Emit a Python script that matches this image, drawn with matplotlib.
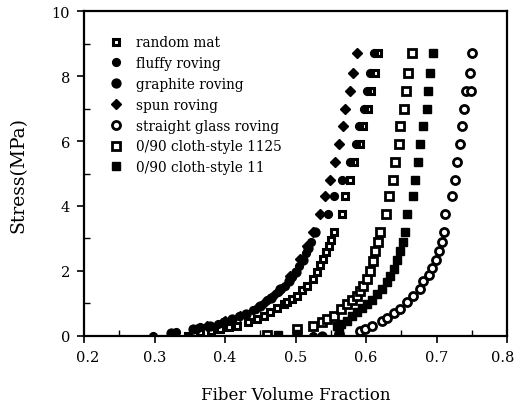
import numpy as np
import matplotlib
matplotlib.use("Agg")
import matplotlib.pyplot as plt
import matplotlib.transforms as mtransforms
from matplotlib.ticker import MultipleLocator

plt.rcParams["font.family"] = ["DejaVu Serif"]

# ── Data (fiber volume fraction, stress MPa) ──────────────────────────────────────

x_ticks = [0.2, 0.3, 0.4, 0.5, 0.6, 0.7, 0.8]
x_tick_labels = ["0.2", "0.3", "0.4", "0.5", "0.6", "0.7", "0.8"]
y_ticks = [0, 2, 4, 6, 8, 10]

random_mat_x = [0.348, 0.364, 0.380, 0.393, 0.405, 0.417, 0.432, 0.445, 0.455, 0.464, 0.474,
                0.483, 0.488, 0.495, 0.502, 0.509, 0.516, 0.524, 0.530, 0.535, 0.539, 0.543,
                0.547, 0.550, 0.554, 0.5655, 0.570, 0.577, 0.583, 0.591, 0.596, 0.602, 0.607,
                0.612, 0.617]
random_mat_y = [0.01, 0.11, 0.16, 0.22, 0.27, 0.32, 0.42, 0.52, 0.62, 0.73, 0.85,
                0.98, 1.04, 1.13, 1.24, 1.40, 1.55, 1.76, 1.96, 2.17, 2.37, 2.58,
                2.78, 2.95, 3.19, 3.75, 4.30, 4.80, 5.35, 5.90, 6.45, 7.00, 7.55,
                8.10, 8.70]

fluffy_x = [0.298, 0.330, 0.365, 0.390, 0.420, 0.440, 0.459, 0.475, 0.485, 0.495, 0.505,
            0.515, 0.522, 0.525, 0.5465, 0.554, 0.5655, 0.577, 0.585, 0.590, 0.597, 0.601,
            0.606, 0.611]
fluffy_y = [0.00, 0.12, 0.28, 0.38, 0.60, 0.80, 1.10, 1.35, 1.55, 1.82, 2.15,
            2.55, 2.90, 0.00, 3.75, 4.30, 4.80, 5.35, 5.90, 6.45, 7.00, 7.55,
            8.10, 8.70]

graphite_x = [0.324, 0.355, 0.379, 0.398, 0.410, 0.430, 0.450, 0.465, 0.478, 0.490, 0.500,
              0.510, 0.518, 0.528, 0.537]
graphite_y = [0.08, 0.20, 0.32, 0.42, 0.52, 0.68, 0.92, 1.18, 1.45, 1.70, 1.98,
              2.35, 2.70, 3.20, 0.00]

spun_x = [0.360, 0.375, 0.400, 0.421, 0.445, 0.455, 0.470, 0.480, 0.492, 0.506, 0.516,
          0.525, 0.535, 0.542, 0.549, 0.556, 0.561, 0.567, 0.570, 0.577, 0.582, 0.587]
spun_y = [0.22, 0.30, 0.45, 0.62, 0.86, 1.00, 1.25, 1.45, 1.86, 2.37, 2.78,
          3.19, 3.75, 4.30, 4.80, 5.35, 5.90, 6.45, 7.00, 7.55, 8.10, 8.70]

glass_x = [0.561, 0.591, 0.598, 0.608, 0.622, 0.629, 0.639, 0.648, 0.658, 0.667, 0.676,
           0.681, 0.689, 0.693, 0.699, 0.703, 0.707, 0.710, 0.712, 0.7215, 0.726, 0.729,
           0.733, 0.736, 0.738, 0.742, 0.748, 0.7475, 0.750]
glass_y = [0.05, 0.16, 0.22, 0.32, 0.47, 0.55, 0.70, 0.82, 1.05, 1.24, 1.45,
           1.70, 1.88, 2.10, 2.35, 2.62, 2.90, 3.19, 3.75, 4.30, 4.80, 5.35,
           5.90, 6.45, 7.00, 7.55, 7.55, 8.10, 8.70]

cloth1125_x = [0.459, 0.502, 0.525, 0.537, 0.545, 0.554, 0.565, 0.573, 0.580, 0.587, 0.591,
               0.596, 0.601, 0.606, 0.610, 0.613, 0.617, 0.620, 0.628, 0.632, 0.638, 0.641,
               0.646, 0.648, 0.653, 0.657, 0.659, 0.665]
cloth1125_y = [0.02, 0.20, 0.32, 0.42, 0.52, 0.62, 0.82, 0.98, 1.10, 1.24, 1.38,
               1.55, 1.75, 2.00, 2.30, 2.62, 2.90, 3.19, 3.75, 4.30, 4.80, 5.35,
               5.90, 6.45, 7.00, 7.55, 8.10, 8.70]

cloth11_x = [0.475, 0.502, 0.561, 0.558, 0.565, 0.573, 0.580, 0.587, 0.594, 0.601, 0.608,
             0.615, 0.622, 0.629, 0.634, 0.639, 0.644, 0.648, 0.652, 0.655, 0.658, 0.666,
             0.669, 0.673, 0.677, 0.681, 0.686, 0.688, 0.691, 0.695]
cloth11_y = [0.02, 0.05, 0.11, 0.32, 0.38, 0.47, 0.60, 0.73, 0.85, 0.98, 1.12,
             1.29, 1.45, 1.65, 1.85, 2.06, 2.35, 2.62, 2.90, 3.19, 3.75, 4.30,
             4.80, 5.35, 5.90, 6.45, 7.00, 7.55, 8.10, 8.70]

# ── Plot ──────────────────────────────────────────────────────────────────────────

fig = plt.figure(figsize=(5.15, 4.14), dpi=100)
ax = fig.add_axes([0.163, 0.186, 0.822, 0.785])

series = [
    ("random mat", random_mat_x, random_mat_y, dict(marker="s", ms=5, mfc="white", mec="black", mew=2.2)),
    ("fluffy roving", fluffy_x, fluffy_y, dict(marker="o", ms=5.6, mfc="black", mec="black")),
    ("graphite roving", graphite_x, graphite_y, dict(marker="o", ms=6.4, mfc="black", mec="black")),
    ("spun roving", spun_x, spun_y, dict(marker="D", ms=5, mfc="black", mec="black")),
    ("straight glass roving", glass_x, glass_y, dict(marker="o", ms=5.8, mfc="white", mec="black", mew=2)),
    ("0/90 cloth-style 1125", cloth1125_x, cloth1125_y, dict(marker="s", ms=5.8, mfc="white", mec="black", mew=2)),
    ("0/90 cloth-style 11", cloth11_x, cloth11_y, dict(marker="s", ms=5.6, mfc="black", mec="black")),
]

for label, xs, ys, style in series:
    ax.plot(xs, ys, linestyle="none", label=label, **style)

ax.set_xticks(x_ticks)
ax.set_xticklabels(x_tick_labels)
ax.set_yticks(y_ticks)
ax.xaxis.set_minor_locator(MultipleLocator(0.05))
ax.yaxis.set_minor_locator(MultipleLocator(1))
ax.set_xlim(0.2, 0.8)
ax.set_ylim(0, 10)
ax.tick_params(which="major", direction="out", length=5, width=1.2, labelsize=10.5, pad=5)
ax.tick_params(which="minor", direction="in", length=4, width=1)
for sp in ax.spines.values():
    sp.set_linewidth(1.6)

# the edge labels sit slightly inside the frame in the original
xlabels = ax.get_xticklabels()
xlabels[0].set_transform(xlabels[0].get_transform()
                         + mtransforms.ScaledTranslation(4 / 100, 0, fig.dpi_scale_trans))
xlabels[-1].set_transform(xlabels[-1].get_transform()
                          + mtransforms.ScaledTranslation(-5 / 100, 0, fig.dpi_scale_trans))

ax.set_xlabel("Fiber Volume Fraction", fontsize=12, labelpad=16)
ax.set_ylabel("Stress(MPa)", fontsize=13.5, labelpad=17)

ax.legend(loc="upper left", bbox_to_anchor=(0.041, 0.95), frameon=False, fontsize=9.8,
          handletextpad=0.95, labelspacing=0.5, handlelength=1.0, borderaxespad=0.2)

fig.savefig("out.png", dpi=100)
